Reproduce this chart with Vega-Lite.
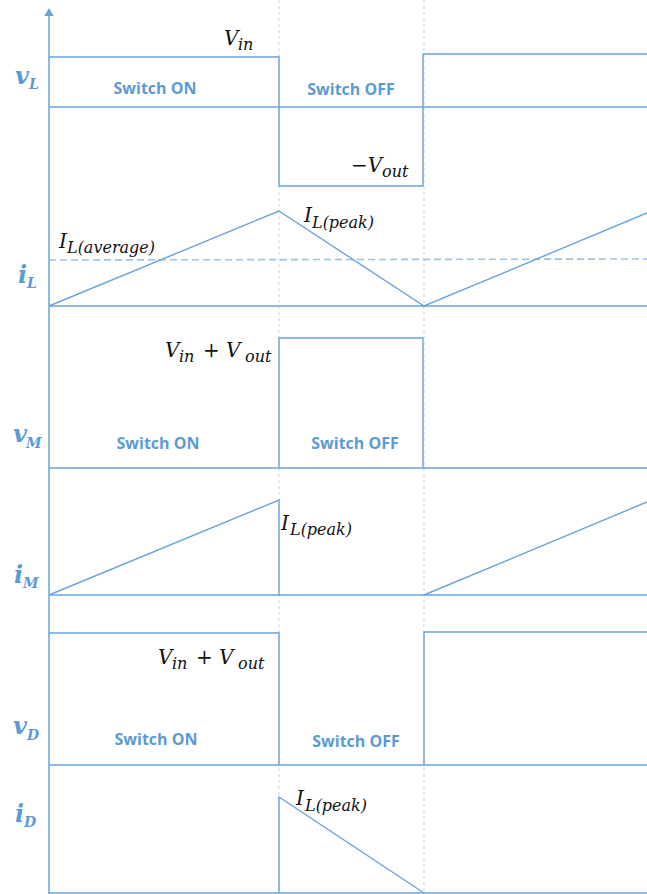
{
  "$schema": "https://vega.github.io/schema/vega-lite/v6.json",
  "width": 647,
  "height": 894,
  "padding": 0,
  "autosize": {"type": "fit", "contains": "padding"},
  "background": "white",
  "config": {"view": {"stroke": null}},
  "datasets": {
    "traces": [
      {"seg": "vL0", "k": 0, "x": 49, "y": 107}, {"seg": "vL0", "k": 1, "x": 647, "y": 107},
      {"seg": "vL", "k": 0, "x": 49, "y": 57}, {"seg": "vL", "k": 1, "x": 279, "y": 57},
      {"seg": "vL", "k": 2, "x": 279, "y": 186}, {"seg": "vL", "k": 3, "x": 423, "y": 186},
      {"seg": "vL", "k": 4, "x": 423, "y": 54}, {"seg": "vL", "k": 5, "x": 647, "y": 54},
      {"seg": "iL0", "k": 0, "x": 49, "y": 306}, {"seg": "iL0", "k": 1, "x": 647, "y": 306},
      {"seg": "iL", "k": 0, "x": 49, "y": 306}, {"seg": "iL", "k": 1, "x": 279, "y": 211},
      {"seg": "iL", "k": 2, "x": 424, "y": 306}, {"seg": "iL", "k": 3, "x": 647, "y": 213},
      {"seg": "vM0", "k": 0, "x": 49, "y": 468}, {"seg": "vM0", "k": 1, "x": 647, "y": 468},
      {"seg": "vM", "k": 0, "x": 279, "y": 468}, {"seg": "vM", "k": 1, "x": 279, "y": 338},
      {"seg": "vM", "k": 2, "x": 423, "y": 338}, {"seg": "vM", "k": 3, "x": 423, "y": 468},
      {"seg": "iM0", "k": 0, "x": 49, "y": 595}, {"seg": "iM0", "k": 1, "x": 647, "y": 595},
      {"seg": "iM1", "k": 0, "x": 49, "y": 595}, {"seg": "iM1", "k": 1, "x": 279, "y": 500},
      {"seg": "iM1", "k": 2, "x": 279, "y": 595},
      {"seg": "iM2", "k": 0, "x": 424, "y": 595}, {"seg": "iM2", "k": 1, "x": 647, "y": 502},
      {"seg": "vD0", "k": 0, "x": 49, "y": 765}, {"seg": "vD0", "k": 1, "x": 647, "y": 765},
      {"seg": "vD1", "k": 0, "x": 49, "y": 633}, {"seg": "vD1", "k": 1, "x": 279, "y": 633},
      {"seg": "vD1", "k": 2, "x": 279, "y": 765},
      {"seg": "vD2", "k": 0, "x": 424, "y": 765}, {"seg": "vD2", "k": 1, "x": 424, "y": 632},
      {"seg": "vD2", "k": 2, "x": 647, "y": 632},
      {"seg": "iD0", "k": 0, "x": 49, "y": 893}, {"seg": "iD0", "k": 1, "x": 647, "y": 893},
      {"seg": "iD", "k": 0, "x": 279, "y": 893}, {"seg": "iD", "k": 1, "x": 279, "y": 797},
      {"seg": "iD", "k": 2, "x": 424, "y": 893}
    ],
    "average": [
      {"k": 0, "x": 49, "y": 260}, {"k": 1, "x": 647, "y": 259}
    ],
    "dividers": [
      {"x": 279, "y": 0, "y2": 894},
      {"x": 424, "y": 0, "y2": 894}
    ],
    "timeAxis": [
      {"x": 49, "y": 14, "y2": 894}
    ],
    "arrowTip": [
      {"x": 49, "y": 12}
    ],
    "mathMain": [
      {"t": "V", "x": 224, "y": 45},
      {"t": "−V", "x": 351, "y": 172},
      {"t": "I", "x": 59, "y": 248},
      {"t": "I", "x": 304, "y": 222},
      {"t": "V", "x": 165, "y": 357}, {"t": "+ V", "x": 203, "y": 357},
      {"t": "I", "x": 281, "y": 530},
      {"t": "V", "x": 158, "y": 664}, {"t": "+ V", "x": 196, "y": 664},
      {"t": "I", "x": 296, "y": 805}
    ],
    "mathSub": [
      {"t": "in", "x": 238, "y": 50},
      {"t": "out", "x": 382, "y": 177},
      {"t": "L(average)", "x": 67, "y": 253},
      {"t": "L(peak)", "x": 312, "y": 228},
      {"t": "in", "x": 179, "y": 362}, {"t": "out", "x": 245, "y": 362},
      {"t": "L(peak)", "x": 290, "y": 535},
      {"t": "in", "x": 172, "y": 669}, {"t": "out", "x": 238, "y": 669},
      {"t": "L(peak)", "x": 305, "y": 811}
    ],
    "rowMain": [
      {"t": "v", "x": 15, "y": 84},
      {"t": "i", "x": 18, "y": 283},
      {"t": "v", "x": 13, "y": 442},
      {"t": "i", "x": 14, "y": 583},
      {"t": "v", "x": 13, "y": 734},
      {"t": "i", "x": 15, "y": 822}
    ],
    "rowSub": [
      {"t": "L", "x": 29, "y": 89},
      {"t": "L", "x": 27, "y": 288},
      {"t": "M", "x": 26, "y": 448},
      {"t": "M", "x": 23, "y": 588},
      {"t": "D", "x": 27, "y": 740},
      {"t": "D", "x": 24, "y": 827}
    ],
    "phases": [
      {"t": "Switch ON", "x": 155, "y": 94},
      {"t": "Switch OFF", "x": 351, "y": 95},
      {"t": "Switch ON", "x": 158, "y": 449},
      {"t": "Switch OFF", "x": 355, "y": 449},
      {"t": "Switch ON", "x": 156, "y": 745},
      {"t": "Switch OFF", "x": 356, "y": 747}
    ]
  },
  "encoding": {
    "x": {"field": "x", "type": "quantitative", "scale": {"domain": [0, 647], "nice": false, "zero": false}, "axis": null},
    "y": {"field": "y", "type": "quantitative", "scale": {"domain": [0, 894], "nice": false, "zero": false, "reverse": true}, "axis": null}
  },
  "layer": [
    {
      "data": {"name": "dividers"},
      "mark": {"type": "rule", "color": "#BDD7EE", "strokeWidth": 1, "strokeDash": [3, 3], "clip": true},
      "encoding": {"y2": {"field": "y2"}}
    },
    {
      "data": {"name": "average"},
      "mark": {"type": "line", "color": "#9DC3E6", "strokeWidth": 1.6, "strokeDash": [7, 4], "clip": true},
      "encoding": {"order": {"field": "k", "type": "quantitative"}}
    },
    {
      "data": {"name": "traces"},
      "mark": {"type": "line", "color": "#6AA3D9", "strokeWidth": 1.4, "clip": true},
      "encoding": {
        "detail": {"field": "seg", "type": "nominal"},
        "order": {"field": "k", "type": "quantitative"}
      }
    },
    {
      "data": {"name": "timeAxis"},
      "mark": {"type": "rule", "color": "#6AA3D9", "strokeWidth": 1.5, "clip": true},
      "encoding": {"y2": {"field": "y2"}}
    },
    {
      "data": {"name": "arrowTip"},
      "mark": {"type": "point", "shape": "triangle-up", "filled": true, "size": 90, "color": "#6AA3D9", "opacity": 1}
    },
    {
      "data": {"name": "mathMain"},
      "mark": {"type": "text", "align": "left", "baseline": "alphabetic", "font": "DejaVu Serif", "fontStyle": "italic", "fontSize": 20, "color": "#111111"},
      "encoding": {"text": {"field": "t"}}
    },
    {
      "data": {"name": "mathSub"},
      "mark": {"type": "text", "align": "left", "baseline": "alphabetic", "font": "DejaVu Serif", "fontStyle": "italic", "fontSize": 16, "color": "#111111"},
      "encoding": {"text": {"field": "t"}}
    },
    {
      "data": {"name": "rowMain"},
      "mark": {"type": "text", "align": "left", "baseline": "alphabetic", "font": "DejaVu Serif", "fontStyle": "italic", "fontWeight": "bold", "fontSize": 24, "color": "#5B9BD5"},
      "encoding": {"text": {"field": "t"}}
    },
    {
      "data": {"name": "rowSub"},
      "mark": {"type": "text", "align": "left", "baseline": "alphabetic", "font": "DejaVu Serif", "fontStyle": "italic", "fontWeight": "bold", "fontSize": 14, "color": "#5B9BD5"},
      "encoding": {"text": {"field": "t"}}
    },
    {
      "data": {"name": "phases"},
      "mark": {"type": "text", "align": "center", "baseline": "alphabetic", "font": "Open Sans", "fontWeight": "bold", "fontSize": 16, "color": "#5B9BD5"},
      "encoding": {"text": {"field": "t"}}
    }
  ]
}
